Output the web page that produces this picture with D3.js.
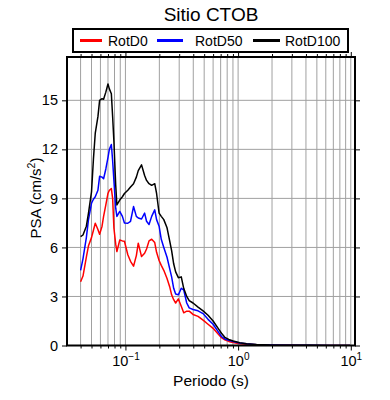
<!DOCTYPE html>
<html>
<head>
<meta charset="utf-8">
<script src="https://cdn.jsdelivr.net/npm/d3@7/dist/d3.min.js"></script>
<style>
  html, body { margin: 0; padding: 0; background: #fff; }
  svg { display: block; font-family: "Liberation Sans", Arial, Helvetica, sans-serif; }
</style>
</head>
<body>
<svg id="chart" width="390" height="400"></svg>
<script>
// ---- data ----
const periods = [0.040, 0.042, 0.045, 0.047, 0.050, 0.052, 0.054, 0.057, 0.059, 0.062,
  0.064, 0.067, 0.070, 0.072, 0.075, 0.077, 0.079, 0.082, 0.084, 0.089,
  0.094, 0.098, 0.105, 0.111, 0.118, 0.125, 0.130, 0.139, 0.148, 0.154,
  0.162, 0.171, 0.182, 0.189, 0.199, 0.208, 0.219, 0.234, 0.247, 0.257,
  0.268, 0.279, 0.295, 0.313, 0.329, 0.350, 0.368, 0.398, 0.441, 0.489,
  0.541, 0.600, 0.665, 0.712, 0.762, 0.826, 0.903, 1.035, 1.19, 1.46,
  1.91, 2.88, 4.34, 6.53, 9.84];

const rotD0 = [3.9, 4.25, 5.4, 6.1, 6.6, 7.05, 7.48, 7.1, 6.8, 7.3,
  7.9, 8.6, 9.3, 9.5, 9.6, 9.0, 7.2, 6.2, 5.75, 6.45,
  6.4, 6.38, 5.55, 5.15, 4.85, 5.5, 6.26, 5.44, 5.64, 5.9,
  6.4, 6.5, 6.3, 5.7, 5.2, 4.9, 4.6, 4.1, 3.6, 3.1,
  2.8, 2.6, 2.85, 2.4, 2.0, 2.1, 2.1, 1.9, 1.78, 1.55,
  1.3, 1.05, 0.7, 0.48, 0.35, 0.25, 0.18, 0.11, 0.07, 0.04,
  0.02, 0.01, 0.005, 0.003, 0.002];

const rotD50 = [4.6, 5.3, 6.6, 7.7, 8.7, 8.95, 9.1, 9.5, 10.35, 10.3,
  10.2, 10.8, 11.5, 12.0, 12.3, 11.3, 10.1, 8.4, 7.9, 8.2,
  7.9, 7.5, 7.48, 7.6, 8.5, 7.9, 7.8, 7.74, 8.1, 7.6,
  7.4, 7.9, 8.3, 7.7, 7.3, 6.5, 6.0, 5.4, 4.7, 4.2,
  3.5, 3.15, 3.1, 3.5, 3.4, 2.6, 2.3, 2.2, 2.12, 1.95,
  1.6, 1.3, 0.85, 0.55, 0.4, 0.32, 0.25, 0.15, 0.1, 0.05,
  0.03, 0.012, 0.008, 0.004, 0.003];

const rotD100 = [6.66, 6.76, 7.3, 8.1, 9.4, 11.4, 13.0, 14.0, 15.0, 15.1,
  15.07, 15.5, 16.0, 15.7, 15.4, 14.0, 12.5, 9.8, 8.6, 8.9,
  9.1, 9.3, 9.5, 9.7, 9.9, 10.3, 10.7, 11.05, 10.4, 10.1,
  9.9, 9.8, 9.9, 9.3, 8.1, 7.9, 7.7, 7.2, 6.4, 5.8,
  5.0, 4.5, 4.15, 4.2, 3.5, 3.0, 2.75, 2.6, 2.35, 2.12,
  1.85, 1.5, 1.05, 0.75, 0.5, 0.37, 0.28, 0.17, 0.11, 0.06,
  0.03, 0.015, 0.01, 0.005, 0.004];

const seriesNames = ["RotD0", "RotD50", "RotD100"];
const seriesColors = ["#ff0000", "#0000ff", "#000000"];
const seriesValues = [rotD0, rotD50, rotD100];

const yTicks = [0, 3, 6, 9, 12, 15];
const xMajor = [0.1, 1, 10];
const xMajorExp = ["\u22121", "0", "1"];
const xMinor = [0.04, 0.05, 0.06, 0.07, 0.08, 0.09,
  0.2, 0.3, 0.4, 0.5, 0.6, 0.7, 0.8, 0.9,
  2, 3, 4, 5, 6, 7, 8, 9];

// ---- layout ----
const svg = d3.select("#chart");
const L = 67, R = 355, T = 57, B = 345.5;

const x = d3.scaleLog().domain([0.0303, 10.9]).range([L, R]);
const y = d3.scaleLinear().domain([0, 17.65]).range([B, T]);

// grid
const grid = svg.append("g").attr("stroke", "#a0a0a0").attr("stroke-width", 1);
grid.selectAll("line.v").data(xMinor.concat(xMajor).filter(d => x(d) < R - 1))
  .join("line").attr("class", "v")
  .attr("x1", d => x(d)).attr("x2", d => x(d)).attr("y1", T).attr("y2", B);
grid.selectAll("line.h").data(yTicks.filter(d => d > 0))
  .join("line").attr("class", "h")
  .attr("x1", L).attr("x2", R).attr("y1", d => y(d)).attr("y2", d => y(d));

// clip
svg.append("clipPath").attr("id", "clip").append("rect")
  .attr("x", L).attr("y", T).attr("width", R - L).attr("height", B - T);

const line = d3.line().x(d => x(d[0])).y(d => y(d[1]));
const curves = svg.append("g").attr("clip-path", "url(#clip)");
seriesValues.forEach((vals, i) => {
  curves.append("path")
    .datum(periods.map((p, j) => [p, vals[j]]))
    .attr("d", line)
    .attr("fill", "none")
    .attr("stroke", seriesColors[i])
    .attr("stroke-width", 1.5)
    .attr("stroke-linejoin", "round");
});

// axes ticks
function styleAxis(g) {
  g.select(".domain").remove();
  g.selectAll(".tick line").attr("stroke", "#000").attr("stroke-width", 1);
}
// bottom
svg.append("g").attr("transform", `translate(0,${B})`)
  .call(d3.axisBottom(x).tickValues(xMinor).tickSize(3).tickFormat(() => ""))
  .call(styleAxis);
const bot = svg.append("g").attr("transform", `translate(0,${B})`)
  .call(d3.axisBottom(x).tickValues(xMajor).tickSize(5).tickFormat(() => ""))
  .call(styleAxis);
bot.selectAll(".tick text").each(function(d, i) {
  const t = d3.select(this).attr("y", 20).attr("dy", null)
    .attr("fill", "#000").attr("font-size", 14.5).attr("font-family", null);
  t.append("tspan").text("10");
  t.append("tspan").attr("dy", -6).attr("font-size", 10).text(xMajorExp[i]);
});
// top
svg.append("g").attr("transform", `translate(0,${T})`)
  .call(d3.axisTop(x).tickValues(xMinor).tickSize(3).tickFormat(() => ""))
  .call(styleAxis);
svg.append("g").attr("transform", `translate(0,${T})`)
  .call(d3.axisTop(x).tickValues(xMajor).tickSize(5).tickFormat(() => ""))
  .call(styleAxis);
// left
svg.append("g").attr("transform", `translate(${L},0)`)
  .call(d3.axisLeft(y).tickValues(yTicks).tickSize(5).tickPadding(4).tickFormat(d3.format("d")))
  .call(styleAxis)
  .call(g => g.selectAll(".tick text").attr("font-size", 14.5).attr("font-family", null).attr("fill", "#000"));
// right
svg.append("g").attr("transform", `translate(${R},0)`)
  .call(d3.axisRight(y).tickValues(yTicks).tickSize(5).tickFormat(() => ""))
  .call(styleAxis);

// frame
svg.append("rect").attr("x", L).attr("y", T).attr("width", R - L).attr("height", B - T)
  .attr("fill", "none").attr("stroke", "#000").attr("stroke-width", 2);

// titles
svg.append("text").attr("x", 211).attr("y", 21).attr("text-anchor", "middle")
  .attr("font-size", 19).text("Sitio CTOB");
svg.append("text").attr("x", 211).attr("y", 386).attr("text-anchor", "middle")
  .attr("font-size", 15.5).text("Periodo (s)");
const yl = svg.append("text").attr("transform", "translate(41,198) rotate(-90)")
  .attr("text-anchor", "middle").attr("font-size", 15);
yl.append("tspan").text("PSA (cm/s");
yl.append("tspan").attr("dy", -6).attr("font-size", 10.5).text("2");
yl.append("tspan").attr("dy", 6).text(")");

// legend
const lg = svg.append("g");
lg.append("rect").attr("x", 73).attr("y", 29).attr("width", 275).attr("height", 23)
  .attr("fill", "#fff").attr("stroke", "#000").attr("stroke-width", 2);
const legX = [[80, 102, 108], [157, 183, 195], [253, 280, 285]];
seriesNames.forEach((n, i) => {
  lg.append("line").attr("x1", legX[i][0]).attr("x2", legX[i][1])
    .attr("y1", 40.5).attr("y2", 40.5)
    .attr("stroke", seriesColors[i]).attr("stroke-width", 3);
  lg.append("text").attr("x", legX[i][2]).attr("y", 45.5)
    .attr("font-size", 14).text(n);
});
</script>
</body>
</html>
